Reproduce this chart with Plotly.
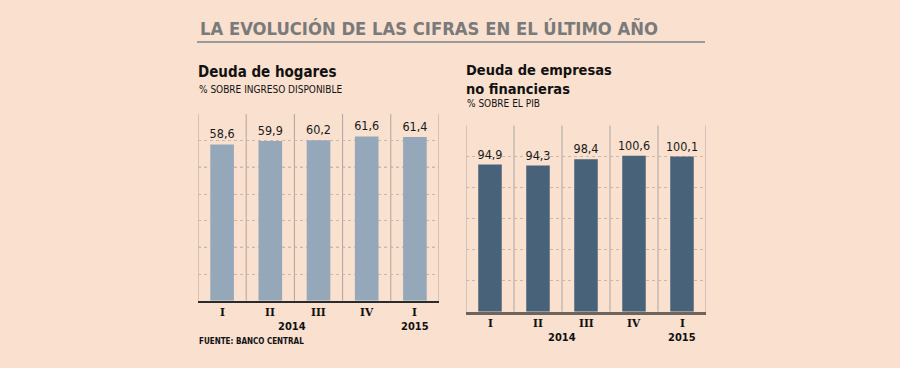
import plotly.graph_objects as go

# ---- data ----
quarters = ["I", "II", "III", "IV", "I"]
hogares = [58.6, 59.9, 60.2, 61.6, 61.4]
empresas = [94.9, 94.3, 98.4, 100.6, 100.1]
year_labels = ["2014", "2015"]
year_pos = [1.45, 4]          # category position of year labels (left)
year_pos_r = [1.5, 4]         # right chart

idx = list(range(len(quarters)))
fmt = lambda v: f"{v:.1f}".replace(".", ",")

FONT = "Tahoma, 'DejaVu Sans Condensed', 'DejaVu Sans', sans-serif"
SERIF = "'DejaVu Serif', serif"
BG = "#F9E0CF"

fig = go.Figure()
fig.add_bar(x=idx, y=hogares, xaxis="x", yaxis="y", width=0.49,
            marker=dict(color="#95A8B9", line=dict(width=0)),
            text=[fmt(v) for v in hogares], textposition="outside", constraintext="none",
            textfont=dict(size=12.5, color="#1a1a1a", family=FONT), cliponaxis=False)
fig.add_bar(x=idx, y=empresas, xaxis="x2", yaxis="y2", width=0.49,
            marker=dict(color="#48627A", line=dict(width=0)),
            text=[fmt(v) for v in empresas], textposition="outside", constraintext="none",
            textfont=dict(size=12.5, color="#1a1a1a", family=FONT), cliponaxis=False)

H = 368.0
def py(px):
    return 1 - px / H

common_x = dict(range=[-0.5, 4.5], showgrid=False, zeroline=False, showticklabels=False,
                ticks="", fixedrange=True)
common_y = dict(showgrid=True, gridcolor="#C9B9AD", griddash="dot", gridwidth=1,
                zeroline=False, showticklabels=False, ticks="", showline=False, fixedrange=True)

fig.update_layout(
    width=900, height=368, margin=dict(l=0, r=0, t=0, b=0),
    paper_bgcolor=BG, plot_bgcolor=BG, showlegend=False,
    font=dict(family=FONT),
    xaxis=dict(domain=[198/900, 439/900], anchor="y", showline=True,
               linecolor="#2b2b2b", linewidth=1.5, **common_x),
    yaxis=dict(domain=[py(300.7), py(114)], anchor="x", range=[0, 70], dtick=10, **common_y),
    xaxis2=dict(domain=[466/900, 706/900], anchor="y2", showline=True,
                linecolor="#6E645C", linewidth=2.5, **common_x),
    yaxis2=dict(domain=[py(311.7), py(125.7)], anchor="x2", range=[0, 120], dtick=20, **common_y),
)

shapes = []
# category separators
for xr, yr in (("x", "y domain"), ("x2", "y2 domain")):
    for i in range(len(quarters) + 1):
        shapes.append(dict(type="line", xref=xr, yref=yr, x0=i - 0.5, x1=i - 0.5, y0=0, y1=1,
                           line=dict(color="#ADA49D", width=1), layer="below"))
# darker dashed lines on left chart
for v in (20, 50):
    shapes.append(dict(type="line", xref="x domain", yref="y", x0=0, x1=1, y0=v, y1=v,
                       line=dict(color="#857C75", width=1, dash="dot"), layer="below"))
# title underline
shapes.append(dict(type="line", xref="paper", yref="paper", x0=197/900, x1=705/900,
                   y0=py(42), y1=py(42), line=dict(color="#9A9A9A", width=2)))
fig.update_layout(shapes=shapes)

ann = []
def A(text, x, y, size, color="#111", bold=False, xref="paper", xanchor="left", family=FONT):
    t = f"<b>{text}</b>" if bold else text
    ann.append(dict(text=t, x=x, y=y, xref=xref, yref="paper", xanchor=xanchor,
                    yanchor="middle", showarrow=False, align="left",
                    font=dict(size=size, color=color, family=family)))

A("LA EVOLUCIÓN DE LAS CIFRAS EN EL ÚLTIMO AÑO", 198/900, py(28), 18.3, "#7A7A7A", True)
A("Deuda de hogares", 196/900, py(72), 15, "#111", True)
A("% SOBRE INGRESO DISPONIBLE", 197/900, py(90), 10, "#111")
A("<b>Deuda de empresas</b><br><b>no financieras</b>", 464/900, py(80), 14.5, "#111")
A("% SOBRE EL PIB", 465/900, py(103), 10, "#111")
A("FUENTE: BANCO CENTRAL", 197/900, py(341), 8, "#111", True)

for i, q in enumerate(quarters):
    A(q, i, py(312), 10.5, "#111", True, xref="x", xanchor="center", family=SERIF)
    A(q, i, py(323), 10.5, "#111", True, xref="x2", xanchor="center", family=SERIF)
for yl, p in zip(year_labels, year_pos):
    A(yl, p, py(326), 11, "#111", True, xref="x", xanchor="center")
for yl, p in zip(year_labels, year_pos_r):
    A(yl, p, py(337.5), 11, "#111", True, xref="x2", xanchor="center")

fig.update_layout(annotations=ann)
fig.write_html("out.html", config={"displayModeBar": False},
               post_script="document.body.style.margin='0';document.body.style.background='%s';" % BG)
